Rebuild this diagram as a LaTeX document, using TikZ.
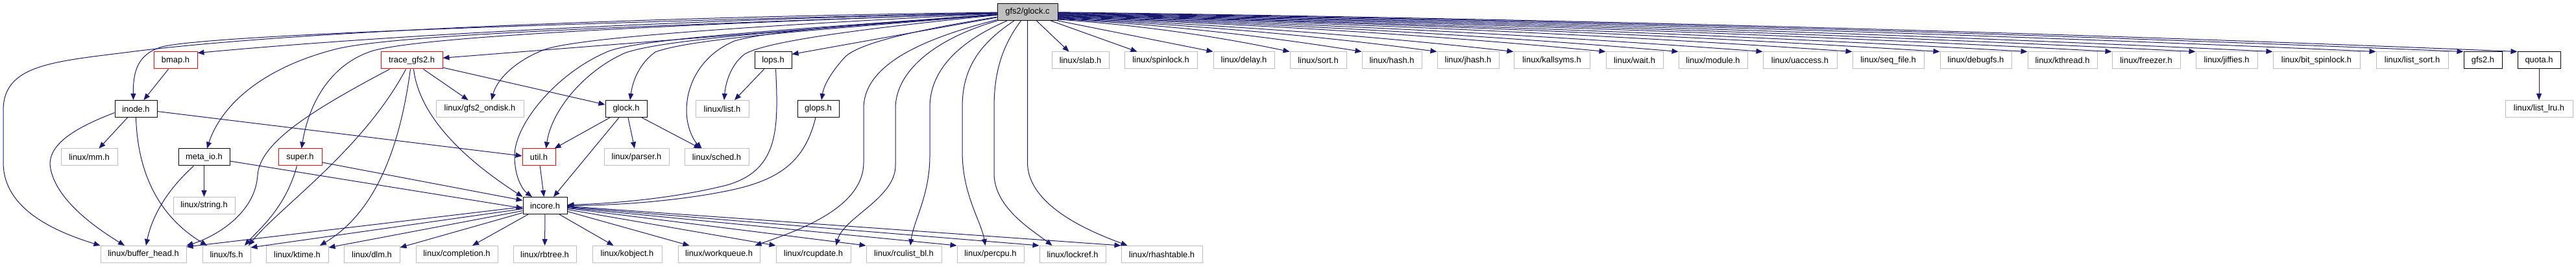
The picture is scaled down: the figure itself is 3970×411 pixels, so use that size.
\documentclass[tikz,border=0pt]{standalone}
\usepackage{fontspec}
\newfontfamily\hfont{Liberation Sans}
\usetikzlibrary{arrows.meta}
\definecolor{edgecol}{HTML}{191970}
\definecolor{gborder}{HTML}{BFBFBF}
\definecolor{rootfill}{HTML}{BFBFBF}
\tikzset{
  hbox/.style={rectangle, inner sep=0pt, minimum height=26pt, line width=1pt, font=\hfont\fontsize{12.9}{15}\selectfont, text=black},
  gbox/.style={hbox, draw=gborder},
  bbox/.style={hbox, draw=black},
  rbox/.style={hbox, draw=red},
  rootbox/.style={hbox, draw=black, fill=rootfill},
  bw/.style={minimum width=#1pt},
  dep/.style={draw=edgecol, line width=1pt, -{Triangle[length=10pt,width=8pt]}},
}
\begin{document}
\begin{tikzpicture}[x=1pt,y=-1pt]
\useasboundingbox (0,0) rectangle (3970,411);
% row 0
\node[rootbox,bw=93] (glockc) at (1583.5,18.5) {gfs2/glock.c};
% row 1
\node[rbox,bw=67] (bmap) at (270.5,93) {bmap.h};
\node[rbox,bw=95] (trace) at (634.5,93) {trace\_gfs2.h};
\node[bbox,bw=57] (lops) at (1191.5,93) {lops.h};
\node[gbox,bw=88] (slab) at (1665,93) {linux/slab.h};
\node[gbox,bw=112] (spinlock) at (1789,93) {linux/spinlock.h};
\node[gbox,bw=94] (delay) at (1917,93) {linux/delay.h};
\node[gbox,bw=87] (sort) at (2031.5,93) {linux/sort.h};
\node[gbox,bw=92] (hash) at (2145,93) {linux/hash.h};
\node[gbox,bw=95] (jhash) at (2262.5,93) {linux/jhash.h};
\node[gbox,bw=117] (kallsyms) at (2391.5,93) {linux/kallsyms.h};
\node[gbox,bw=88] (wait) at (2519,93) {linux/wait.h};
\node[gbox,bw=106] (module) at (2640,93) {linux/module.h};
\node[gbox,bw=114] (uaccess) at (2774,93) {linux/uaccess.h};
\node[gbox,bw=110] (seqfile) at (2910,93) {linux/seq\_file.h};
\node[gbox,bw=110] (debugfs) at (3045,93) {linux/debugfs.h};
\node[gbox,bw=107] (kthread) at (3178.5,93) {linux/kthread.h};
\node[gbox,bw=105] (freezer) at (3307.5,93) {linux/freezer.h};
\node[gbox,bw=95] (jiffies) at (3431.5,93) {linux/jiffies.h};
\node[gbox,bw=134] (bitspin) at (3570,93) {linux/bit\_spinlock.h};
\node[gbox,bw=111] (listsort) at (3717.5,93) {linux/list\_sort.h};
\node[bbox,bw=59] (gfstwo) at (3826.5,93) {gfs2.h};
\node[bbox,bw=66] (quota) at (3913,93) {quota.h};
% row 2
\node[bbox,bw=65] (inode) at (209.5,167.5) {inode.h};
\node[gbox,bw=135] (ondisk) at (739.5,167.5) {linux/gfs2\_ondisk.h};
\node[bbox,bw=64] (glockh) at (965,167.5) {glock.h};
\node[gbox,bw=82] (list) at (1113,167.5) {linux/list.h};
\node[bbox,bw=64] (glops) at (1261,167.5) {glops.h};
\node[gbox,bw=104] (listlru) at (3913,167.5) {linux/list\_lru.h};
% row 3
\node[gbox,bw=87] (mm) at (137.5,242) {linux/mm.h};
\node[bbox,bw=79] (metaio) at (314.5,242) {meta\_io.h};
\node[rbox,bw=67] (super) at (462.5,242) {super.h};
\node[rbox,bw=51] (util) at (830.5,242) {util.h};
\node[gbox,bw=100] (parser) at (981,242) {linux/parser.h};
\node[gbox,bw=99] (sched) at (1104.5,242) {linux/sched.h};
% row 4
\node[gbox,bw=95] (string) at (314.5,316.5) {linux/string.h};
\node[bbox,bw=68] (incore) at (840,316.5) {incore.h};
% row 5
\node[gbox,bw=132] (bufferhead) at (221,391.5) {linux/buffer\_head.h};
\node[gbox,bw=74] (fs) at (349,391.5) {linux/fs.h};
\node[gbox,bw=96] (ktime) at (458,391.5) {linux/ktime.h};
\node[gbox,bw=86] (dlm) at (573,391.5) {linux/dlm.h};
\node[gbox,bw=126] (completion) at (704,391.5) {linux/completion.h};
\node[gbox,bw=97] (rbtree) at (839.5,391.5) {linux/rbtree.h};
\node[gbox,bw=107] (kobject) at (966.5,391.5) {linux/kobject.h};
\node[gbox,bw=126] (workqueue) at (1108,391.5) {linux/workqueue.h};
\node[gbox,bw=115] (rcupdate) at (1253.5,391.5) {linux/rcupdate.h};
\node[gbox,bw=116] (rculist) at (1393,391.5) {linux/rculist\_bl.h};
\node[gbox,bw=103] (percpu) at (1526.5,391.5) {linux/percpu.h};
\node[gbox,bw=102] (lockref) at (1653,391.5) {linux/lockref.h};
\node[gbox,bw=125] (rhash) at (1790.5,391.5) {linux/rhashtable.h};

% ---- edges from gfs2/glock.c, left side
\draw[dep] (glockc) .. controls (1000,26) and (450,48) .. (200,80) .. controls (80,95) and (5,100) .. (5,170) -- (5,250) .. controls (5,320) and (80,355) .. (bufferhead.north west);
\draw[dep] (glockc) .. controls (1000,32) and (330,52) .. (250,72) .. controls (212,83) and (205,110) .. ([xshift=-4pt]inode.north);
\draw[dep] (glockc) .. controls (1200,28) and (700,45) .. ([yshift=-2pt]bmap.north east);
\draw[dep] (glockc) -- (trace);
\draw[dep] (glockc) .. controls (1000,40) and (620,52) .. (520,75) .. controls (400,105) and (340,165) .. (metaio);
\draw[dep] (glockc) .. controls (1050,38) and (660,55) .. (575,78) .. controls (505,100) and (475,165) .. (super);
\draw[dep] (glockc) .. controls (1200,38) and (900,56) .. (840,76) .. controls (790,95) and (765,125) .. ([xshift=18pt]ondisk.north);
\draw[dep] (glockc) .. controls (1250,45) and (1020,60) .. (962,82) .. controls (900,110) and (850,170) .. ([xshift=11pt]util.north);
\draw[dep] (glockc) .. controls (1230,45) and (1000,58) .. (940,78) .. controls (860,110) and (793,190) .. (793,240) .. controls (793,272) and (805,292) .. ([xshift=-20pt]incore.north);
\draw[dep] (glockc) .. controls (1280,45) and (1070,58) .. (1010,80) .. controls (985,98) and (975,125) .. ([xshift=6pt]glockh.north);
\draw[dep] (glockc) .. controls (1300,40) and (1185,48) .. (1132,63) .. controls (1080,85) and (1058,130) .. (1058,170) .. controls (1058,195) and (1068,215) .. ([xshift=-23pt]sched.north);
\draw[dep] (glockc) .. controls (1350,42) and (1185,62) .. (1148,83) .. controls (1125,100) and (1118,130) .. ([xshift=3pt]list.north);
\draw[dep] (glockc) -- ([yshift=-4pt]lops.north east);
\draw[dep] (glockc) .. controls (1420,45) and (1325,65) .. (1302,88) .. controls (1282,110) and (1270,130) .. ([xshift=5pt]glops.north);
% ---- edges from gfs2/glock.c, downward
\draw[dep] (glockc) .. controls (1420,60) and (1331,100) .. (1331,167) -- (1331,250) .. controls (1331,320) and (1230,355) .. ([xshift=-8pt]workqueue.north east);
\draw[dep] (glockc) .. controls (1440,60) and (1380,110) .. (1380,167) -- (1380,255) .. controls (1380,305) and (1300,335) .. ([xshift=-23pt]rcupdate.north east);
\draw[dep] (glockc) .. controls (1475,65) and (1433,110) .. (1433,165) -- (1433,240) .. controls (1433,300) and (1408,340) .. ([xshift=10pt]rculist.north);
\draw[dep] (glockc) .. controls (1505,70) and (1483,110) .. (1483,165) -- (1483,233) .. controls (1483,300) and (1512,340) .. ([xshift=-8pt]percpu.north);
\draw[dep] (glockc) .. controls (1545,70) and (1532,110) .. (1532,165) -- (1532,267) .. controls (1532,320) and (1592,355) .. ([xshift=20pt]lockref.north west);
\draw[dep] (glockc) -- (1583.5,250) .. controls (1583.5,320) and (1690,360) .. ([xshift=10pt]rhash.north west);
% ---- edges from gfs2/glock.c, right side
\draw[dep] ([xshift=14pt]glockc.south) -- ([xshift=27pt]slab.north west);
\draw[dep] ([xshift=36pt]glockc.south) -- ([xshift=20pt]spinlock.north west);
\draw[dep] (glockc.south east) -- (delay.north west);
\draw[dep] ([yshift=-11.5pt]glockc.east) .. controls +(119,8) and +(-119,-25) .. (sort.north west);
\draw[dep] ([yshift=-10.75pt]glockc.east) .. controls +(156,8) and +(-156,-25) .. (hash.north west);
\draw[dep] ([yshift=-10pt]glockc.east) .. controls +(195,9) and +(-195,-26) .. (jhash.north west);
\draw[dep] ([yshift=-9.25pt]glockc.east) .. controls +(234,9) and +(-234,-26) .. (kallsyms.north west);
\draw[dep] ([yshift=-8.5pt]glockc.east) .. controls +(282,9) and +(-282,-27) .. (wait.north west);
\draw[dep] ([yshift=-7.75pt]glockc.east) .. controls +(319,9) and +(-319,-27) .. (module.north west);
\draw[dep] ([yshift=-7pt]glockc.east) .. controls +(362,9) and +(-362,-27) .. (uaccess.north west);
\draw[dep] ([yshift=-6.25pt]glockc.east) .. controls +(408,9) and +(-408,-28) .. (seqfile.north west);
\draw[dep] ([yshift=-5.5pt]glockc.east) .. controls +(453,9) and +(-453,-28) .. (debugfs.north west);
\draw[dep] ([yshift=-4.75pt]glockc.east) .. controls +(498,10) and +(-498,-28) .. (kthread.north west);
\draw[dep] ([yshift=-4pt]glockc.east) .. controls +(542,10) and +(-542,-29) .. (freezer.north west);
\draw[dep] ([yshift=-3.25pt]glockc.east) .. controls +(585,10) and +(-585,-29) .. (jiffies.north west);
\draw[dep] ([yshift=-2.5pt]glockc.east) .. controls +(624,10) and +(-624,-30) .. (bitspin.north west);
\draw[dep] ([yshift=-1.75pt]glockc.east) .. controls +(677,10) and +(-677,-30) .. (listsort.north west);
\draw[dep] ([yshift=-1pt]glockc.east) .. controls +(722,10) and +(-722,-30) .. (gfstwo.north west);
\draw[dep] ([yshift=-0.25pt]glockc.east) .. controls +(750,10) and +(-750,-31) .. (quota.north west);
% ---- trace_gfs2.h
\draw[dep] ([xshift=-34pt]trace.south) .. controls (480,170) and (400,220) .. (397,270) .. controls (393,330) and (330,365) .. (bufferhead.north east);
\draw[dep] ([xshift=-9pt]trace.south) .. controls (560,230) and (430,320) .. ([xshift=34pt]fs.north);
\draw[dep] ([xshift=-2pt]trace.south) .. controls (620,200) and (590,320) .. ([xshift=35pt]ktime.north);
\draw[dep] ([xshift=3pt]trace.south) .. controls (645,170) and (700,235) .. (incore.north west);
\draw[dep] ([xshift=18pt]trace.south) -- ([xshift=-18pt]ondisk.north);
\draw[dep] ([yshift=-11pt]trace.east) -- ([yshift=-7pt]glockh.north west);
% ---- inode.h, bmap.h
\draw[dep] ([yshift=-6pt]inode.west) .. controls (120,195) and (70,222) .. (78,260) .. controls (88,310) and (150,352) .. ([xshift=-29pt]bufferhead.north);
\draw[dep] ([xshift=-13pt]inode.south) -- ([xshift=15pt]mm.north);
\draw[dep] (inode.south) .. controls (212,260) and (240,330) .. ([xshift=-30pt]fs.north);
\draw[dep] ([yshift=-4pt]inode.east) -- ([yshift=2pt]util.west);
\draw[dep] ([xshift=-11pt]bmap.south) -- ([xshift=12pt]inode.north);
% ---- meta_io.h, super.h
\draw[dep] ([xshift=-16pt]metaio.south) .. controls (260,290) and (235,330) .. ([xshift=4pt]bufferhead.north);
\draw[dep] (metaio) -- (string);
\draw[dep] ([yshift=-6pt]metaio.east) -- ([yshift=-4pt]incore.west);
\draw[dep] ([xshift=-5pt]super.south) .. controls (440,320) and (400,352) .. ([xshift=28pt]fs.north);
\draw[dep] ([yshift=-8pt]super.east) -- ([yshift=8pt]incore.west);
% ---- glock.h, lops.h, glops.h, util.h
\draw[dep] ([xshift=-25pt]glockh.south) -- ([xshift=24pt]util.north);
\draw[dep] ([xshift=-11pt]glockh.south) -- ([xshift=13pt]incore.north);
\draw[dep] ([xshift=3pt]glockh.south) -- ([xshift=-3pt]parser.north);
\draw[dep] ([xshift=24pt]glockh.south) -- ([xshift=-25pt]sched.north);
\draw[dep] ([xshift=-14pt]lops.south) -- ([xshift=19pt]list.north);
\draw[dep] ([xshift=4pt]lops.south) .. controls (1200,200) and (1200,262) .. (1120,285) .. controls (1040,305) and (950,313) .. ([yshift=1pt]incore.east);
\draw[dep] ([xshift=-4pt]glops.south) .. controls (1240,250) and (1200,278) .. (1120,294) .. controls (1040,310) and (950,316) .. (incore.east);
\draw[dep] (util) -- (incore);
% ---- incore.h
\draw[dep] ([yshift=-2pt]incore.west) -- ([yshift=-2pt]bufferhead.north east);
\draw[dep] ([yshift=-5pt]incore.west) -- ([yshift=-3pt]fs.north east);
\draw[dep] ([yshift=-8pt]incore.west) -- ([yshift=-3pt]ktime.north east);
\draw[dep] ([yshift=-11pt]incore.west) -- ([yshift=-3pt]dlm.north east);
\draw[dep] ([xshift=-26pt]incore.south) -- ([xshift=24pt]completion.north);
\draw[dep] (incore) -- (rbtree);
\draw[dep] ([xshift=22pt]incore.south) -- ([xshift=-21pt]kobject.north);
\draw[dep] ([yshift=-9pt]incore.east) -- ([xshift=18pt]workqueue.north west);
\draw[dep] ([yshift=-6pt]incore.east) -- (rcupdate.north west);
\draw[dep] ([yshift=-4pt]incore.east) -- (rculist.north west);
\draw[dep] ([yshift=-3pt]incore.east) -- (percpu.north west);
\draw[dep] ([yshift=-2pt]incore.east) -- (lockref.north west);
\draw[dep] ([yshift=-1pt]incore.east) -- (rhash.north west);
% ---- quota.h
\draw[dep] (quota) -- (listlru);
\end{tikzpicture}
\end{document}
